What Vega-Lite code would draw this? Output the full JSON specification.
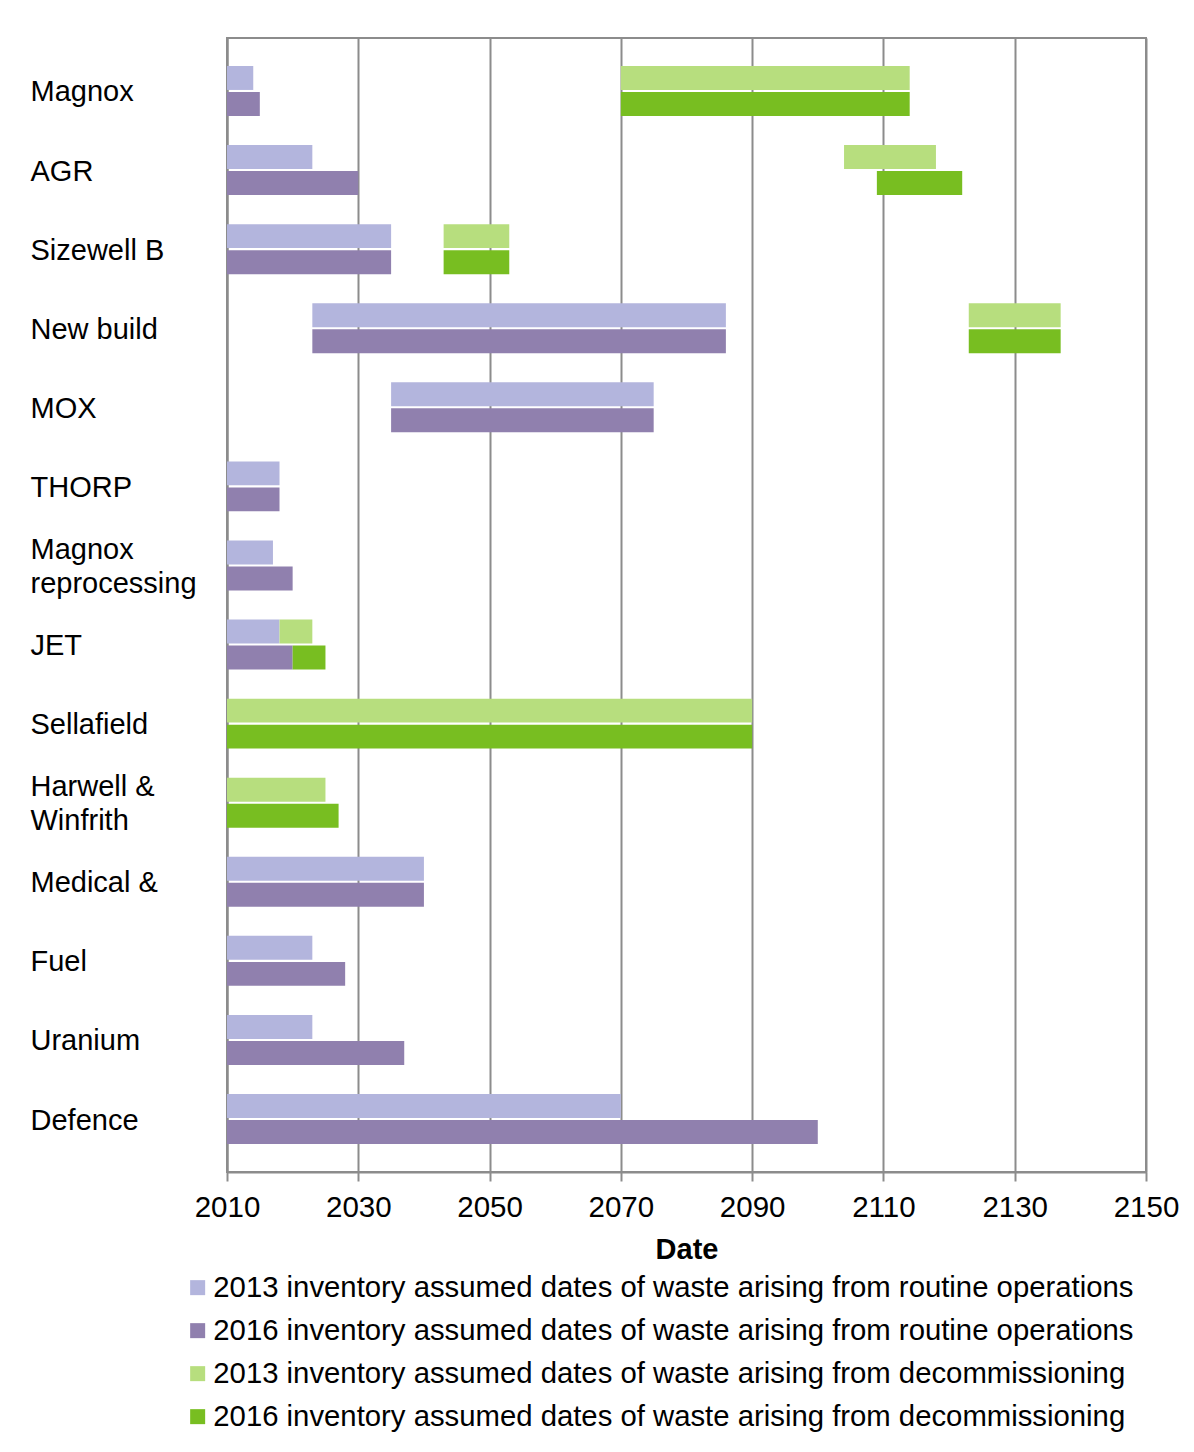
{
  "$schema": "https://vega.github.io/schema/vega-lite/v6.json",
  "width": 919,
  "height": 1134,
  "autosize": {"type": "none"},
  "padding": {"left": 227, "top": 38, "right": 48, "bottom": 280},
  "background": "white",
  "config": {
    "font": "Liberation Sans",
    "view": {"stroke": "#8c8c8c", "strokeWidth": 2}
  },
  "data": {
    "values": [
      {"category": "Magnox", "year": "2013", "series": "2013 inventory assumed dates of waste arising from routine operations", "start": 2010, "end": 2014},
      {"category": "Magnox", "year": "2016", "series": "2016 inventory assumed dates of waste arising from routine operations", "start": 2010, "end": 2015},
      {"category": "Magnox", "year": "2013", "series": "2013 inventory assumed dates of waste arising from decommissioning", "start": 2070, "end": 2114},
      {"category": "Magnox", "year": "2016", "series": "2016 inventory assumed dates of waste arising from decommissioning", "start": 2070, "end": 2114},
      {"category": "AGR", "year": "2013", "series": "2013 inventory assumed dates of waste arising from routine operations", "start": 2010, "end": 2023},
      {"category": "AGR", "year": "2016", "series": "2016 inventory assumed dates of waste arising from routine operations", "start": 2010, "end": 2030},
      {"category": "AGR", "year": "2013", "series": "2013 inventory assumed dates of waste arising from decommissioning", "start": 2104, "end": 2118},
      {"category": "AGR", "year": "2016", "series": "2016 inventory assumed dates of waste arising from decommissioning", "start": 2109, "end": 2122},
      {"category": "Sizewell B", "year": "2013", "series": "2013 inventory assumed dates of waste arising from routine operations", "start": 2010, "end": 2035},
      {"category": "Sizewell B", "year": "2016", "series": "2016 inventory assumed dates of waste arising from routine operations", "start": 2010, "end": 2035},
      {"category": "Sizewell B", "year": "2013", "series": "2013 inventory assumed dates of waste arising from decommissioning", "start": 2043, "end": 2053},
      {"category": "Sizewell B", "year": "2016", "series": "2016 inventory assumed dates of waste arising from decommissioning", "start": 2043, "end": 2053},
      {"category": "New build", "year": "2013", "series": "2013 inventory assumed dates of waste arising from routine operations", "start": 2023, "end": 2086},
      {"category": "New build", "year": "2016", "series": "2016 inventory assumed dates of waste arising from routine operations", "start": 2023, "end": 2086},
      {"category": "New build", "year": "2013", "series": "2013 inventory assumed dates of waste arising from decommissioning", "start": 2123, "end": 2137},
      {"category": "New build", "year": "2016", "series": "2016 inventory assumed dates of waste arising from decommissioning", "start": 2123, "end": 2137},
      {"category": "MOX", "year": "2013", "series": "2013 inventory assumed dates of waste arising from routine operations", "start": 2035, "end": 2075},
      {"category": "MOX", "year": "2016", "series": "2016 inventory assumed dates of waste arising from routine operations", "start": 2035, "end": 2075},
      {"category": "THORP", "year": "2013", "series": "2013 inventory assumed dates of waste arising from routine operations", "start": 2010, "end": 2018},
      {"category": "THORP", "year": "2016", "series": "2016 inventory assumed dates of waste arising from routine operations", "start": 2010, "end": 2018},
      {"category": "Magnox|reprocessing", "year": "2013", "series": "2013 inventory assumed dates of waste arising from routine operations", "start": 2010, "end": 2017},
      {"category": "Magnox|reprocessing", "year": "2016", "series": "2016 inventory assumed dates of waste arising from routine operations", "start": 2010, "end": 2020},
      {"category": "JET", "year": "2013", "series": "2013 inventory assumed dates of waste arising from routine operations", "start": 2010, "end": 2018},
      {"category": "JET", "year": "2016", "series": "2016 inventory assumed dates of waste arising from routine operations", "start": 2010, "end": 2020},
      {"category": "JET", "year": "2013", "series": "2013 inventory assumed dates of waste arising from decommissioning", "start": 2018, "end": 2023},
      {"category": "JET", "year": "2016", "series": "2016 inventory assumed dates of waste arising from decommissioning", "start": 2020, "end": 2025},
      {"category": "Sellafield", "year": "2013", "series": "2013 inventory assumed dates of waste arising from decommissioning", "start": 2010, "end": 2090},
      {"category": "Sellafield", "year": "2016", "series": "2016 inventory assumed dates of waste arising from decommissioning", "start": 2010, "end": 2090},
      {"category": "Harwell &|Winfrith", "year": "2013", "series": "2013 inventory assumed dates of waste arising from decommissioning", "start": 2010, "end": 2025},
      {"category": "Harwell &|Winfrith", "year": "2016", "series": "2016 inventory assumed dates of waste arising from decommissioning", "start": 2010, "end": 2027},
      {"category": "Medical &", "year": "2013", "series": "2013 inventory assumed dates of waste arising from routine operations", "start": 2010, "end": 2040},
      {"category": "Medical &", "year": "2016", "series": "2016 inventory assumed dates of waste arising from routine operations", "start": 2010, "end": 2040},
      {"category": "Fuel", "year": "2013", "series": "2013 inventory assumed dates of waste arising from routine operations", "start": 2010, "end": 2023},
      {"category": "Fuel", "year": "2016", "series": "2016 inventory assumed dates of waste arising from routine operations", "start": 2010, "end": 2028},
      {"category": "Uranium", "year": "2013", "series": "2013 inventory assumed dates of waste arising from routine operations", "start": 2010, "end": 2023},
      {"category": "Uranium", "year": "2016", "series": "2016 inventory assumed dates of waste arising from routine operations", "start": 2010, "end": 2037},
      {"category": "Defence", "year": "2013", "series": "2013 inventory assumed dates of waste arising from routine operations", "start": 2010, "end": 2070},
      {"category": "Defence", "year": "2016", "series": "2016 inventory assumed dates of waste arising from routine operations", "start": 2010, "end": 2100}
    ]
  },
  "mark": {"type": "bar"},
  "encoding": {
    "y": {
      "field": "category",
      "type": "nominal",
      "sort": ["Magnox", "AGR", "Sizewell B", "New build", "MOX", "THORP", "Magnox|reprocessing", "JET", "Sellafield", "Harwell &|Winfrith", "Medical &", "Fuel", "Uranium", "Defence"],
      "scale": {"paddingInner": 0.368, "paddingOuter": 0.354},
      "axis": {
        "title": null,
        "labelAlign": "left",
        "labelBaseline": "middle",
        "labelPadding": 197,
        "labelFontSize": 29,
        "labelColor": "black",
        "labelExpr": "indexof(datum.value, '|') >= 0 ? [split(datum.value, '|')[0], '\u200b', split(datum.value, '|')[1]] : ['\u200b', datum.value]",
        "labelLineHeight": 17,
        "labelOffset": -15.5,
        "labelLimit": 300,
        "ticks": false,
        "domainColor": "#8c8c8c",
        "domainWidth": 2,
        "grid": false
      }
    },
    "yOffset": {
      "field": "year",
      "type": "nominal",
      "sort": ["2013", "2016"],
      "scale": {"paddingInner": 0.08, "paddingOuter": 0}
    },
    "x": {
      "field": "start",
      "type": "quantitative",
      "scale": {"domain": [2010, 2150], "nice": false, "zero": false},
      "axis": {
        "values": [2010, 2030, 2050, 2070, 2090, 2110, 2130, 2150],
        "format": "d",
        "title": "Date",
        "titleFontSize": 29,
        "titleFontWeight": "bold",
        "titleColor": "black",
        "titlePadding": 14,
        "labelFontSize": 29.5,
        "labelColor": "black",
        "labelPadding": 12,
        "labelFlush": false,
        "labelOverlap": false,
        "tickSize": 9,
        "tickWidth": 2,
        "tickColor": "#8c8c8c",
        "domainColor": "#8c8c8c",
        "domainWidth": 2,
        "grid": true,
        "gridColor": "#8c8c8c",
        "gridWidth": 2,
        "gridOpacity": 1
      }
    },
    "x2": {"field": "end"},
    "color": {
      "field": "series",
      "type": "nominal",
      "scale": {
        "domain": [
          "2013 inventory assumed dates of waste arising from routine operations",
          "2016 inventory assumed dates of waste arising from routine operations",
          "2013 inventory assumed dates of waste arising from decommissioning",
          "2016 inventory assumed dates of waste arising from decommissioning"
        ],
        "range": ["#b3b5dd", "#9080ae", "#b7de7e", "#78be21"]
      },
      "legend": {
        "title": null,
        "orient": "none",
        "legendX": -44,
        "legendY": 1235,
        "direction": "vertical",
        "symbolType": "square",
        "symbolSize": 225,
        "symbolStrokeWidth": 0,
        "labelFontSize": 29.3,
        "labelColor": "black",
        "labelLimit": 1100,
        "labelOffset": 1,
        "rowPadding": 13
      }
    }
  }
}
